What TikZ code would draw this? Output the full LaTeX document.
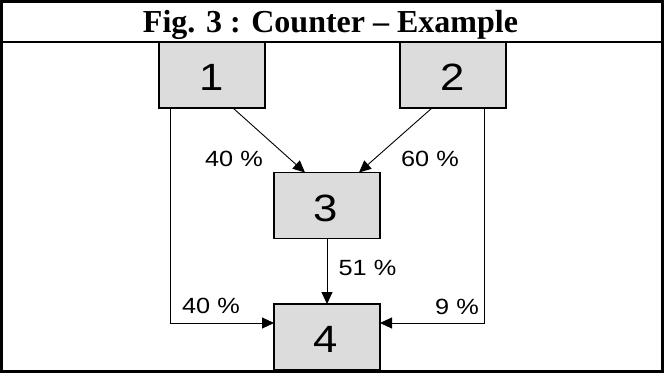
\documentclass[tikz,border=0pt]{standalone}
\usepackage{fontspec}
\setmainfont{Liberation Serif}
\newfontfamily\arialfont{Liberation Sans}
\usetikzlibrary{arrows.meta,calc}
\definecolor{boxgray}{HTML}{DCDCDC}
\tikzset{
  blk/.style={draw=black, line width=1.3pt, fill=boxgray, minimum width=106pt,
    minimum height=66pt, inner sep=0pt, outer sep=0pt},
  digit/.style={inner sep=0pt, font=\arialfont\fontsize{38}{38}\selectfont},
  pct/.style={inner sep=0pt, font=\arialfont\fontsize{22}{22}\selectfont},
  flow/.style={draw=black, line width=0.9pt, -{Triangle[length=12pt,width=11pt]}},
}
\newcommand{\wide}[1]{\scalebox{1.15}[1]{#1}}
\begin{document}
\begin{tikzpicture}[x=1pt,y=-1pt]
\useasboundingbox (0,0) rectangle (664,373);
% frame and title row
\draw[line width=2.6pt] (1.3,1.3) rectangle (662.7,371.7);
\draw[line width=2.2pt] (1.3,42) -- (662.7,42);
\node[anchor=base, inner sep=0pt, font=\bfseries\fontsize{32}{32}\selectfont] (title) at (330.5,32) {Fig. 3 : Counter -- Example};
% blocks
\node[blk] (n1) at (212,75) {};
\node[blk] (n2) at (453,75) {};
\node[blk] (n3) at (327,205.5) {};
\node[blk] (n4) at (327,337) {};
\node[digit] (d1) at (212,77) {\wide{1}};
\node[digit] (d2) at (453,77) {\wide{2}};
\node[digit] (d3) at (326,208) {\wide{3}};
\node[digit] (d4) at (326,339.5) {\wide{4}};
% connectors
\draw[flow] ([xshift=21pt]n1.south) -- ([xshift=-22pt]n3.north);
\draw[flow] ([xshift=-21pt]n2.south) -- ([xshift=32pt]n3.north);
\draw[flow] (n3.south) -- (n4.north);
\draw[flow] ([xshift=11pt]n1.south west) |- ([yshift=14pt]n4.west);
\draw[flow] ([xshift=-22pt]n2.south east) |- ([yshift=14pt]n4.east);
% shares
\node[pct] (p13) at (234,158.5) {\wide{40 \%}};
\node[pct] (p23) at (430,158.5) {\wide{60 \%}};
\node[pct] (p34) at (367.5,268) {\wide{51 \%}};
\node[pct] (p14) at (211,306) {\wide{40 \%}};
\node[pct] (p24) at (457,307) {\wide{9 \%}};
\end{tikzpicture}
\end{document}
